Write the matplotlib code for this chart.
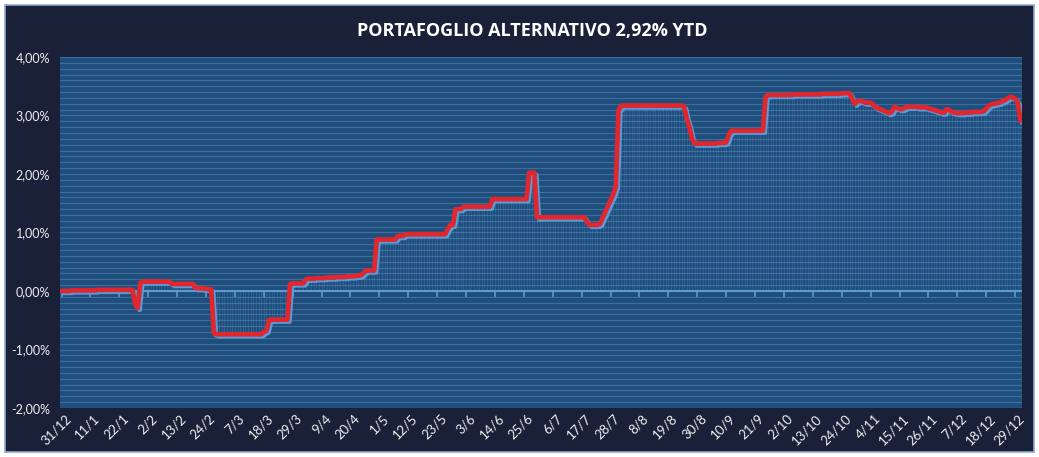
import matplotlib.pyplot as plt
import matplotlib.transforms as mtransforms
from matplotlib.patches import Rectangle
from matplotlib.ticker import FuncFormatter, MultipleLocator
from datetime import date, timedelta

# daily YTD performance (%), 31/12 -> 31/12
v_dec_prev = [0.00]
v_jan = [0.00, 0.00, 0.00, 0.01, 0.01, 0.01, 0.01, 0.01, 0.01, 0.01,
         0.01, 0.01, 0.01, 0.02, 0.02, 0.02, 0.02, 0.02, 0.02, 0.02,
         0.02, 0.02, 0.02, 0.02, 0.02, 0.02, 0.02, -0.22, -0.29, 0.14,
         0.16]
v_feb = [0.16, 0.16, 0.16, 0.16, 0.16, 0.16, 0.16, 0.16, 0.16, 0.16,
         0.12, 0.12, 0.12, 0.12, 0.12, 0.12, 0.12, 0.12, 0.12, 0.05,
         0.05, 0.05, 0.04, 0.04, 0.03, 0.03, -0.72, -0.74]
v_mar = [-0.74, -0.74, -0.74, -0.74, -0.74, -0.74, -0.74, -0.74, -0.74, -0.74,
         -0.74, -0.74, -0.74, -0.74, -0.74, -0.74, -0.74, -0.70, -0.68, -0.50,
         -0.49, -0.49, -0.49, -0.49, -0.49, -0.49, -0.49, 0.12, 0.13, 0.13,
         0.13]
v_apr = [0.13, 0.13, 0.20, 0.21, 0.21, 0.21, 0.22, 0.22, 0.22, 0.22,
         0.23, 0.23, 0.23, 0.23, 0.24, 0.24, 0.24, 0.24, 0.25, 0.25,
         0.25, 0.26, 0.26, 0.27, 0.31, 0.35, 0.35, 0.35, 0.35, 0.88]
v_may = [0.88, 0.88, 0.88, 0.88, 0.88, 0.88, 0.88, 0.94, 0.94, 0.94,
         0.97, 0.97, 0.97, 0.97, 0.97, 0.97, 0.97, 0.97, 0.97, 0.97,
         0.97, 0.97, 0.97, 0.97, 0.97, 0.97, 1.06, 1.13, 1.13, 1.40,
         1.40]
v_jun = [1.40, 1.44, 1.44, 1.44, 1.44, 1.44, 1.44, 1.44, 1.44, 1.44,
         1.44, 1.44, 1.57, 1.57, 1.57, 1.57, 1.57, 1.57, 1.57, 1.57,
         1.57, 1.57, 1.57, 1.57, 1.57, 1.57, 2.02, 2.02, 2.02, 1.26]
v_jul = [1.26, 1.26, 1.26, 1.26, 1.26, 1.26, 1.26, 1.26, 1.26, 1.26,
         1.26, 1.26, 1.26, 1.26, 1.26, 1.26, 1.26, 1.26, 1.18, 1.13,
         1.13, 1.13, 1.13, 1.15, 1.25, 1.35, 1.45, 1.55, 1.65, 1.78,
         3.09]
v_aug = [3.16, 3.17, 3.17, 3.17, 3.17, 3.17, 3.17, 3.17, 3.17, 3.17,
         3.17, 3.17, 3.17, 3.17, 3.17, 3.17, 3.17, 3.17, 3.17, 3.17,
         3.17, 3.17, 3.17, 3.17, 3.15, 2.95, 2.80, 2.60, 2.52, 2.52,
         2.52]
v_sep = [2.52, 2.52, 2.52, 2.52, 2.52, 2.52, 2.53, 2.53, 2.53, 2.54,
         2.67, 2.74, 2.74, 2.74, 2.74, 2.74, 2.74, 2.74, 2.74, 2.74,
         2.74, 2.74, 2.74, 2.74, 3.32, 3.35, 3.35, 3.35, 3.35, 3.35]
v_oct = [3.35, 3.35, 3.35, 3.35, 3.35, 3.36, 3.36, 3.36, 3.36, 3.36,
         3.36, 3.36, 3.36, 3.36, 3.36, 3.36, 3.37, 3.37, 3.37, 3.37,
         3.37, 3.37, 3.37, 3.38, 3.38, 3.38, 3.38, 3.28, 3.20, 3.24,
         3.25]
v_nov = [3.24, 3.22, 3.22, 3.22, 3.18, 3.14, 3.12, 3.10, 3.08, 3.06,
         3.04, 3.06, 3.15, 3.13, 3.11, 3.11, 3.13, 3.15, 3.15, 3.15,
         3.15, 3.14, 3.14, 3.14, 3.14, 3.12, 3.11, 3.10, 3.08, 3.07]
v_dec = [3.05, 3.05, 3.11, 3.09, 3.06, 3.05, 3.04, 3.04, 3.04, 3.05,
         3.05, 3.05, 3.06, 3.06, 3.06, 3.06, 3.07, 3.12, 3.17, 3.19,
         3.20, 3.21, 3.22, 3.24, 3.26, 3.29, 3.32, 3.31, 3.29, 3.22,
         2.92]

values = (v_dec_prev + v_jan + v_feb + v_mar + v_apr + v_may + v_jun
          + v_jul + v_aug + v_sep + v_oct + v_nov + v_dec)
days = list(range(len(values)))

start = date(2018, 12, 31)
tick_days = list(range(0, 364, 11))
tick_labels = [f"{(start + timedelta(d)).day}/{(start + timedelta(d)).month}" for d in tick_days]

title = "PORTAFOGLIO ALTERNATIVO 2,92% YTD"

navy = '#1b2039'
plot_bg = '#1f4e7c'
light = '#5b9bd5'
red = '#e1262d'
font = ['Lato', 'DejaVu Sans']

fig = plt.figure(figsize=(10.39, 4.57), dpi=100, facecolor='white')
fig.patches.append(Rectangle((0.005, 0.01), 0.99, 0.98, transform=fig.transFigure,
                             facecolor=navy, edgecolor='#8fa9c9', linewidth=1.2, zorder=-1))

ax = fig.add_axes([0.0577, 0.1072, 0.9259, 0.7681])
ax.set_facecolor(plot_bg)

# columns from 0 to value
ax.vlines(days, 0, values, color=light, alpha=0.22, linewidth=0.8, zorder=1)

# shadow line slightly offset, then red line
shadow = mtransforms.offset_copy(ax.transData, fig=fig, x=2, y=-2, units='dots')
ax.plot(days, values, color=light, linewidth=3.2, transform=shadow, zorder=3)
ax.plot(days, values, color=red, linewidth=3.4, zorder=4)

# axis line at zero with tick marks
ax.axhline(0, color=light, linewidth=1.5, zorder=2)
ax.plot(tick_days, [0] * len(tick_days), linestyle='None', marker=3,
        markersize=4, color=light, markeredgewidth=1.2, zorder=2)

ax.set_xlim(-0.6, 365.6)
ax.set_ylim(-2, 4)
ax.yaxis.set_major_locator(MultipleLocator(1))
ax.yaxis.set_minor_locator(MultipleLocator(0.1))
ax.yaxis.set_major_formatter(FuncFormatter(lambda v, p: f"{v:.2f}%".replace('.', ',')))
ax.grid(True, axis='y', which='both', color='#3c6d9c', linewidth=0.9, zorder=0)
ax.set_axisbelow(True)

ax.set_xticks(tick_days)
ax.set_xticklabels(tick_labels, rotation=45, ha='right', va='top', rotation_mode='anchor')
ax.tick_params(axis='x', length=0, pad=3, labelsize=9.5, labelcolor='#eeeeee')
ax.tick_params(axis='y', which='both', length=0, pad=7, labelsize=9, labelcolor='#eeeeee')
shift = mtransforms.ScaledTranslation(3 / 100, 0, fig.dpi_scale_trans)
for lbl in ax.get_xticklabels():
    lbl.set_family(font)
    lbl.set_transform(lbl.get_transform() + shift)
for lbl in ax.get_yticklabels():
    lbl.set_family(font)
for s in ax.spines.values():
    s.set_visible(False)

fig.text(0.512, 0.932, title, ha='center', va='center', color='white',
         fontsize=13, fontweight='bold', family='Open Sans')

fig.savefig('out.png', dpi=100, facecolor=fig.get_facecolor())
